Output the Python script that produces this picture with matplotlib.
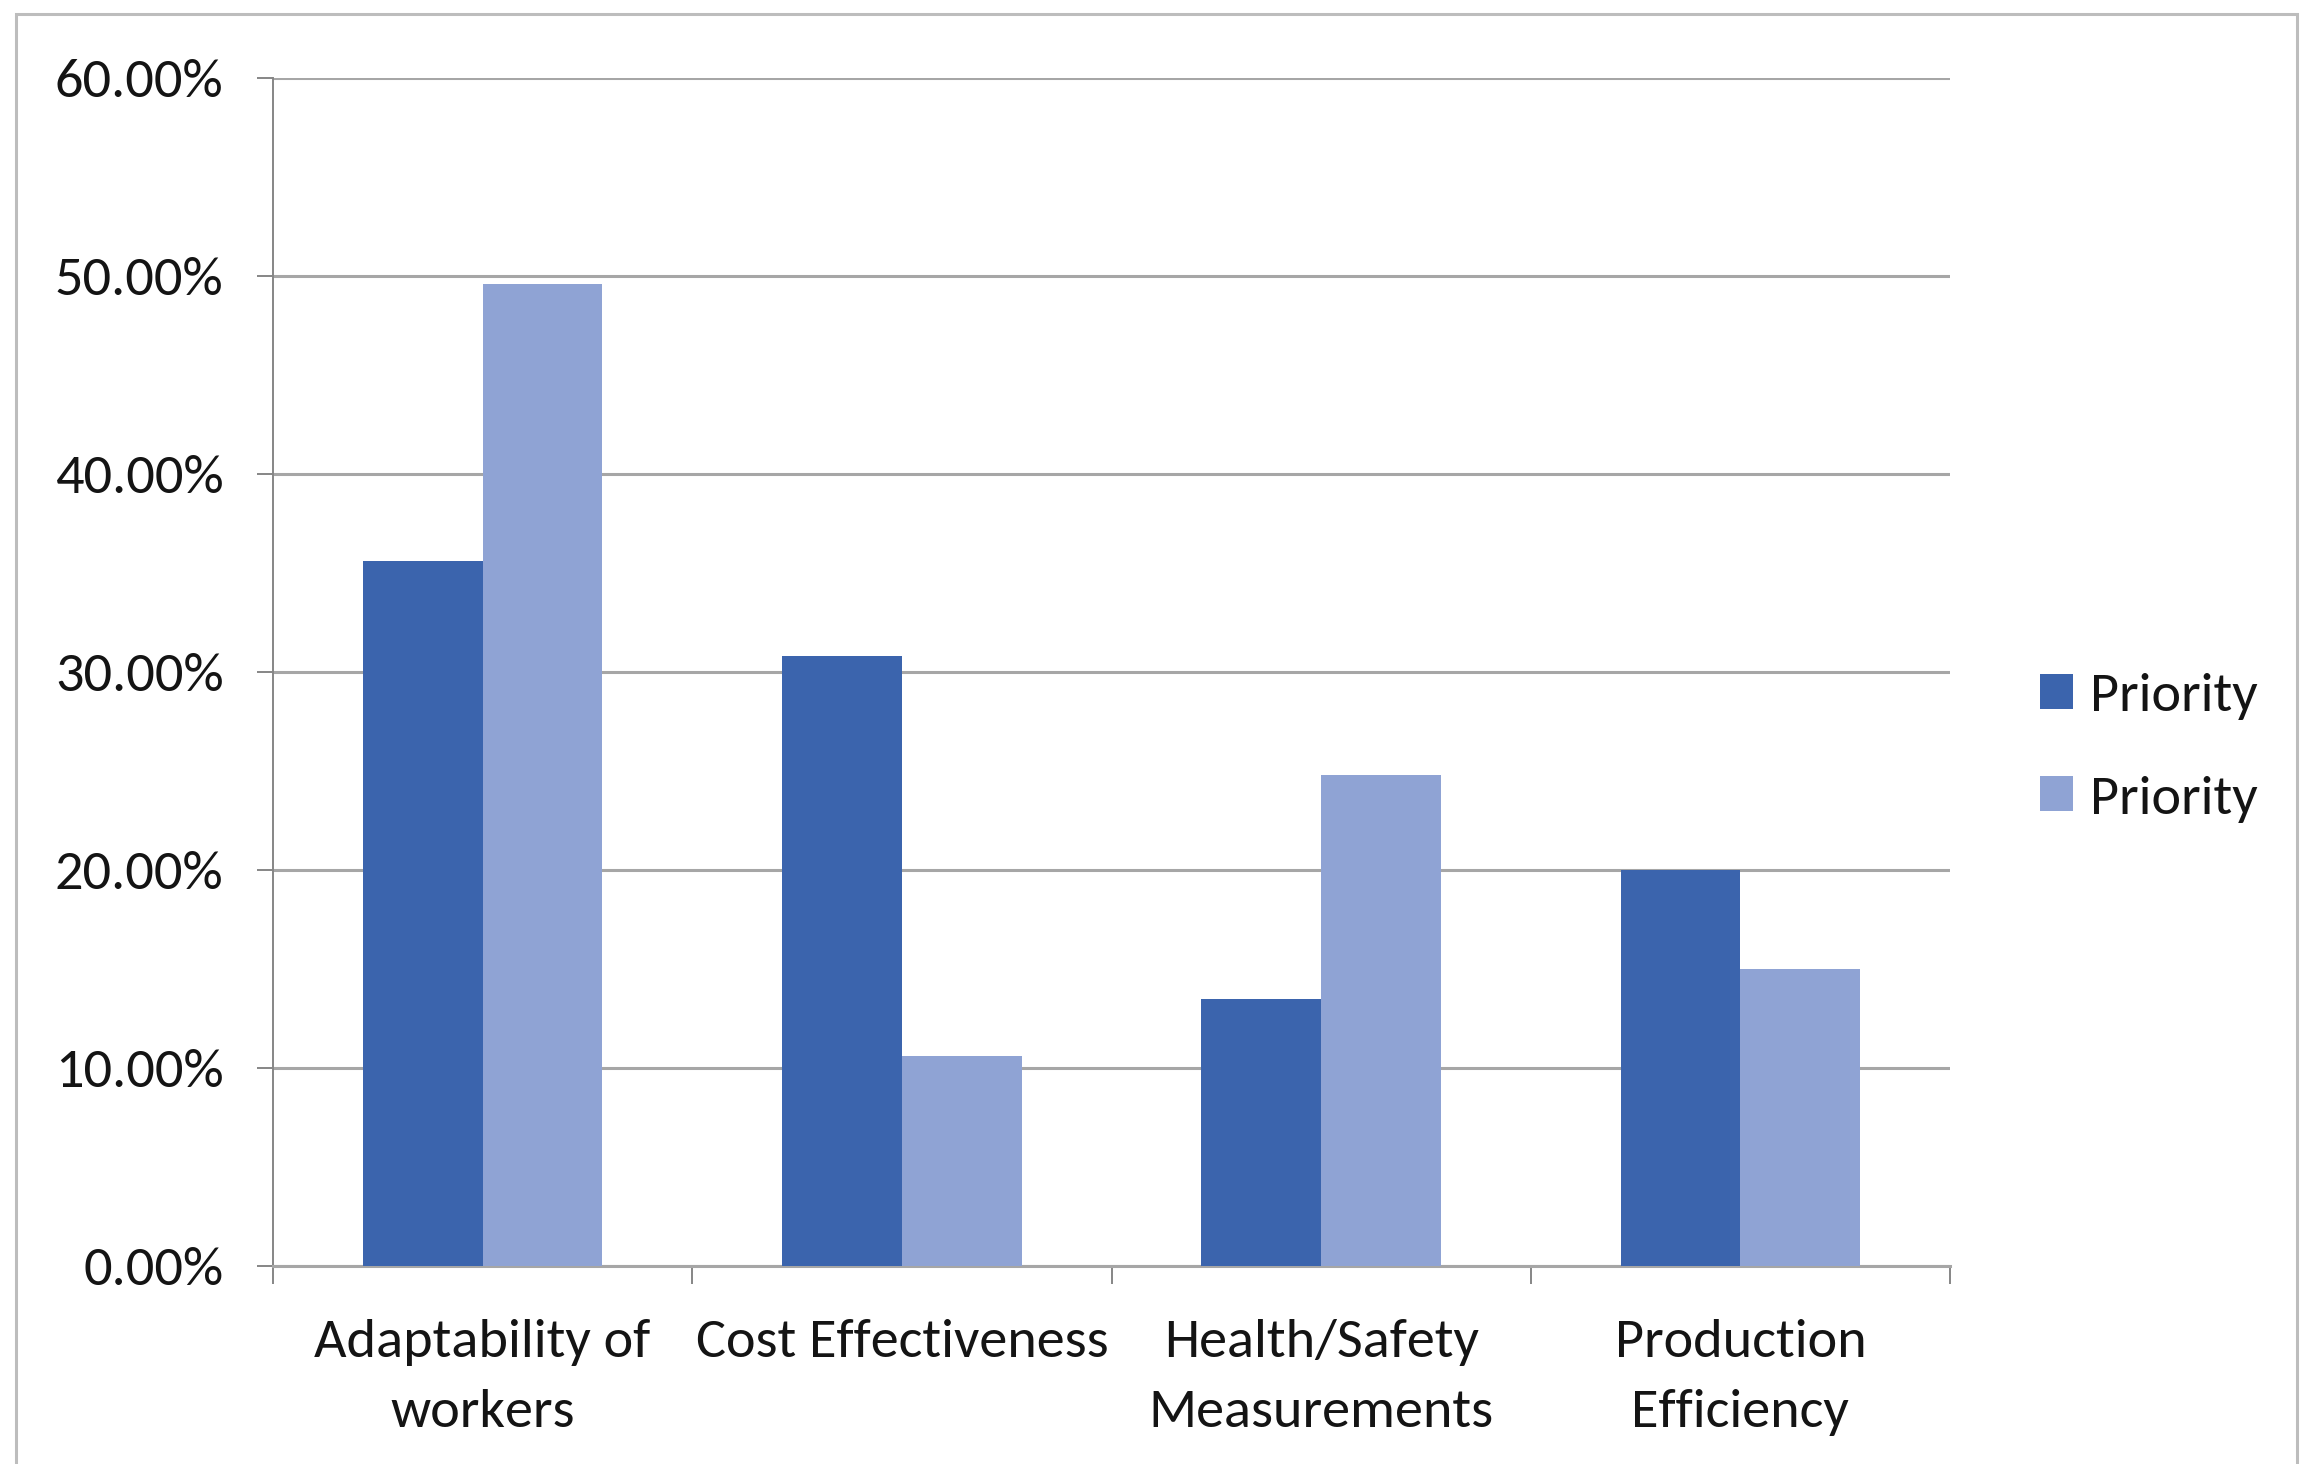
import matplotlib
matplotlib.use("Agg")
import matplotlib.pyplot as plt
from matplotlib.patches import Patch, Rectangle
from matplotlib.ticker import FuncFormatter, FixedLocator
import numpy as np

plt.rcParams['font.family'] = ['Carlito', 'Lato', 'DejaVu Sans']

categories = ["Adaptability of\nworkers", "Cost Effectiveness",
              "Health/Safety\nMeasurements", "Production\nEfficiency"]
series_names = ["Priority", "Priority"]
priority_a = [35.6, 30.8, 13.5, 20.0]
priority_b = [49.6, 10.6, 24.8, 15.0]
y_ticks = [0, 10, 20, 30, 40, 50, 60]

dark = "#3B64AD"
light = "#8FA3D4"
grid_grey = "#A6A6A6"
axis_grey = "#868686"
text_col = "#141414"
fs = 40.5

W, H, DPI = 2300, 1464, 100
fig = plt.figure(figsize=(W / DPI, H / DPI), dpi=DPI)
fig.patch.set_facecolor("white")

# outer chart-area frame
fig.add_artist(Rectangle((16 / W, -0.02), (2297 - 16) / W, 1 - 14 / H + 0.02,
                         transform=fig.transFigure, fill=False,
                         edgecolor="#BDBDBD", linewidth=2.2))

left, right = 273 / W, 1950 / W
bottom, top = 1 - 1266 / H, 1 - 78 / H
ax = fig.add_axes([left, bottom, right - left, top - bottom])

x = np.arange(len(categories))
bw = 1 / 3.5
ax.bar(x - bw / 2, priority_a, width=bw, color=dark, label=series_names[0], zorder=3)
ax.bar(x + bw / 2, priority_b, width=bw, color=light, label=series_names[1], zorder=3)

ax.set_xlim(-0.5, len(categories) - 0.5)
ax.set_ylim(0, 60)
ax.yaxis.set_major_locator(FixedLocator(y_ticks))
ax.yaxis.set_major_formatter(FuncFormatter(lambda v, p: f"{v:.2f}%"))
ax.grid(axis="y", color=grid_grey, linewidth=2.2, zorder=0)
ax.set_axisbelow(True)

for s in ["top", "right"]:
    ax.spines[s].set_visible(False)
ax.spines["left"].set_color(axis_grey)
ax.spines["left"].set_linewidth(1.4)
ax.spines["bottom"].set_color(grid_grey)
ax.spines["bottom"].set_linewidth(2.2)

ax.tick_params(axis="y", length=11.5, width=1.4, color=axis_grey,
               labelsize=fs, pad=24, labelcolor=text_col)

ax.set_xticks(x)
ax.set_xticklabels(categories, fontsize=fs, color=text_col, linespacing=1.62)
ax.tick_params(axis="x", which="major", length=0, pad=38)
ax.xaxis.set_minor_locator(FixedLocator(np.arange(len(categories) + 1) - 0.5))
ax.tick_params(axis="x", which="minor", length=13, width=1.4, color=axis_grey)

handles = [Patch(facecolor=dark), Patch(facecolor=light)]
fig.legend(handles, series_names, loc="center left",
           bbox_to_anchor=(2040 / W, 1 - 748 / H), frameon=False,
           fontsize=fs, handlelength=0.58, handleheight=0.58,
           handletextpad=0.3, labelspacing=0.98, borderpad=0, borderaxespad=0,
           labelcolor=text_col)

fig.savefig("out.png", dpi=DPI, facecolor="white")
